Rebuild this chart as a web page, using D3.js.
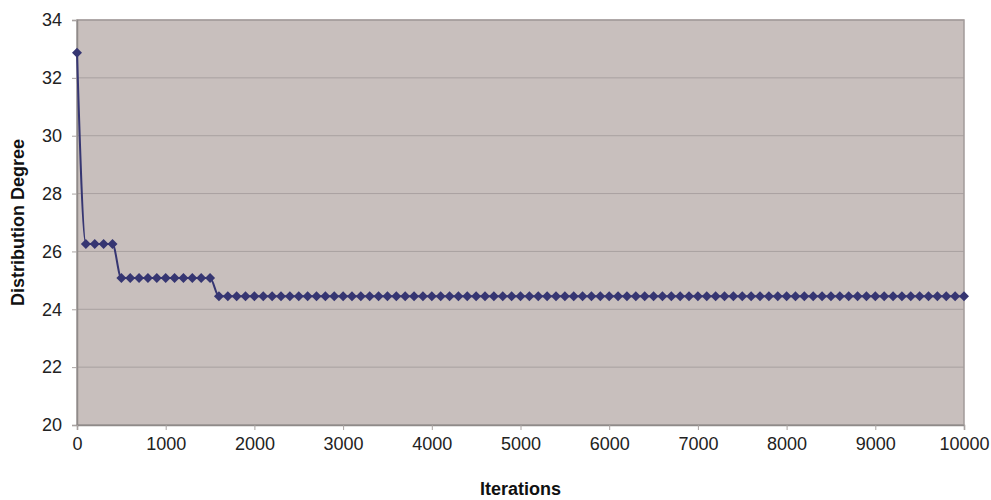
<!DOCTYPE html>
<html><head><meta charset="utf-8">
<script src="https://cdn.jsdelivr.net/npm/d3@7"></script>
<style>
html,body{margin:0;padding:0;background:#fff;}
text{font-family:"Liberation Sans",Arial,sans-serif;}
</style></head>
<body><svg id="chart" width="991" height="500"></svg>
<script>
const iterations = [0,100,200,300,400,500,600,700,800,900,1000,1100,1200,1300,1400,1500,1600,1700,1800,1900,2000,2100,2200,2300,2400,2500,2600,2700,2800,2900,3000,3100,3200,3300,3400,3500,3600,3700,3800,3900,4000,4100,4200,4300,4400,4500,4600,4700,4800,4900,5000,5100,5200,5300,5400,5500,5600,5700,5800,5900,6000,6100,6200,6300,6400,6500,6600,6700,6800,6900,7000,7100,7200,7300,7400,7500,7600,7700,7800,7900,8000,8100,8200,8300,8400,8500,8600,8700,8800,8900,9000,9100,9200,9300,9400,9500,9600,9700,9800,9900,10000];
const degree = [32.87,26.26,26.26,26.26,26.26,25.08,25.08,25.08,25.08,25.08,25.08,25.08,25.08,25.08,25.08,25.08,24.45,24.45,24.45,24.45,24.45,24.45,24.45,24.45,24.45,24.45,24.45,24.45,24.45,24.45,24.45,24.45,24.45,24.45,24.45,24.45,24.45,24.45,24.45,24.45,24.45,24.45,24.45,24.45,24.45,24.45,24.45,24.45,24.45,24.45,24.45,24.45,24.45,24.45,24.45,24.45,24.45,24.45,24.45,24.45,24.45,24.45,24.45,24.45,24.45,24.45,24.45,24.45,24.45,24.45,24.45,24.45,24.45,24.45,24.45,24.45,24.45,24.45,24.45,24.45,24.45,24.45,24.45,24.45,24.45,24.45,24.45,24.45,24.45,24.45,24.45,24.45,24.45,24.45,24.45,24.45,24.45,24.45,24.45,24.45,24.45];
const xTicks = [0,1000,2000,3000,4000,5000,6000,7000,8000,9000,10000];
const yTicks = [20,22,24,26,28,30,32,34];
const xTitle = "Iterations";
const yTitle = "Distribution Degree";

const svg = d3.select("#chart");
const L = 77, R = 964, T = 20, B = 425;
const x = d3.scaleLinear().domain([0,10000]).range([L,R]);
const y = d3.scaleLinear().domain([20,34]).range([B,T]);

svg.append("rect").attr("x",L).attr("y",T).attr("width",R-L).attr("height",B-T)
  .attr("fill","#c8bfbd");

svg.append("g").selectAll("line").data(yTicks).join("line")
  .attr("x1",L).attr("x2",R).attr("y1",d=>y(d)).attr("y2",d=>y(d))
  .attr("stroke","#a9a1a0").attr("stroke-width",1);

svg.append("rect").attr("x",L).attr("y",T).attr("width",R-L).attr("height",B-T)
  .attr("fill","none").attr("stroke","#a29b9a").attr("stroke-width",1.5);

const yAxis = svg.append("g").attr("transform",`translate(${L},0)`)
  .call(d3.axisLeft(y).tickValues(yTicks).tickSize(5).tickPadding(10).tickFormat(d3.format("d")));
const xAxis = svg.append("g").attr("transform",`translate(0,${B})`)
  .call(d3.axisBottom(x).tickValues(xTicks).tickSize(5).tickPadding(7).tickFormat(d3.format("d")));
[yAxis,xAxis].forEach(a=>{
  a.select(".domain").attr("stroke","#8f8a89").attr("stroke-width",1.5);
  a.selectAll(".tick line").attr("stroke","#a9a3a2");
  a.selectAll("text").attr("font-size","18px").attr("fill","#222")
   .attr("font-family","'Liberation Sans',Arial,sans-serif");
});

const pts = iterations.map((d,i)=>[d,degree[i]]);
const line = d3.line().x(d=>x(d[0])).y(d=>y(d[1])).curve(d3.curveMonotoneX);
svg.append("path").datum(pts).attr("d",line).attr("fill","none")
  .attr("stroke","#363672").attr("stroke-width",2);

svg.append("g").selectAll("path").data(pts).join("path")
  .attr("transform",d=>`translate(${x(d[0])},${y(d[1])})`)
  .attr("d","M0,-5L5,0L0,5L-5,0Z").attr("fill","#363672");

svg.append("text").attr("x",(L+R)/2).attr("y",495).attr("text-anchor","middle")
  .attr("font-size","18px").attr("font-weight","bold").attr("fill","#111").text(xTitle);
svg.append("text").attr("transform",`translate(24,${(T+B)/2}) rotate(-90)`).attr("text-anchor","middle")
  .attr("font-size","18px").attr("font-weight","bold").attr("fill","#111").text(yTitle);
</script></body></html>
